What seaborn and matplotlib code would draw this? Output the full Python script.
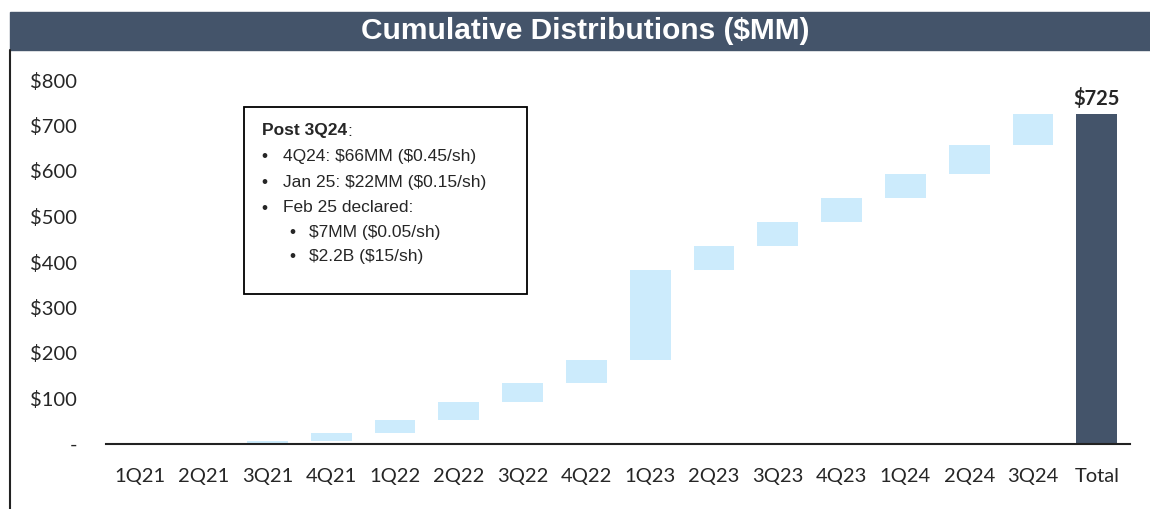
import matplotlib
matplotlib.use("Agg")
import matplotlib.pyplot as plt
from matplotlib.patches import Rectangle
import numpy as np
import seaborn as sns

# quarterly distributions ($MM)
quarters = ["1Q21", "2Q21", "3Q21", "4Q21", "1Q22", "2Q22", "3Q22", "4Q22",
            "1Q23", "2Q23", "3Q23", "4Q23", "1Q24", "2Q24", "3Q24", "Total"]
increments = [0, 0, 6, 19, 28, 39, 42, 51, 197, 53, 54, 51, 54, 63, 68]
total = 725

y_ticks = [0, 100, 200, 300, 400, 500, 600, 700, 800]
y_labels = ["-", "$100", "$200", "$300", "$400", "$500", "$600", "$700", "$800"]

note_title = "Post 3Q24"
note_lines = ["4Q24: $66MM ($0.45/sh)", "Jan 25: $22MM ($0.15/sh)", "Feb 25 declared:"]
note_sub = ["$7MM ($0.05/sh)", "$2.2B ($15/sh)"]

step_color = "#CCEBFC"
total_color = "#44546A"

# waterfall: each step sits on the running total before it
bottoms = np.concatenate([[0], np.cumsum(increments)[:-1], [0]])
heights = np.array(increments + [total])


def esc(s):
    return s.replace("$", r"\$")


sns.set_style("white")
plt.rcParams["font.family"] = ["Lato", "DejaVu Sans"]

fig = plt.figure(figsize=(11.5, 5.09), dpi=100)
W, H = 1150, 509


def fx(px):
    return px / W


def fy(py):
    return 1 - py / H


ax = fig.add_axes([fx(106), fy(444), fx(1130) - fx(106), fy(80) - fy(444)])

sns.barplot(x=quarters, y=heights, color=step_color, saturation=1,
            bottom=bottoms, width=0.64, errorbar=None, ax=ax)
ax.patches[-1].set_facecolor(total_color)
for p in ax.patches:
    p.set_edgecolor("none")

ax.set_xlim(-0.53, 15.52)
ax.set_ylim(0, 800)
ax.set_yticks(y_ticks)
ax.set_yticklabels(y_labels)
ax.tick_params(axis="y", length=0, pad=21, labelsize=14.5)
ax.tick_params(axis="x", length=0, pad=17, labelsize=14.5)
ax.set_xlabel("")
ax.set_ylabel("")
for s in ["top", "right", "left"]:
    ax.spines[s].set_visible(False)
ax.spines["bottom"].set_color("#222222")
ax.spines["bottom"].set_linewidth(1.5)

ax.text(15, total + 12, esc(f"${total}"), ha="center", va="bottom",
        fontsize=14.5, fontweight="bold")

# title band
fig.patches.append(Rectangle((fx(10), fy(50)), 1 - fx(10), fy(12) - fy(50),
                             transform=fig.transFigure, color=total_color, zorder=0))
fig.text(fx(585), fy(31), esc("Cumulative Distributions ($MM)"), color="white",
         ha="center", va="center", fontsize=21.5, fontweight="bold",
         family=["Liberation Sans Narrow", "Liberation Sans", "DejaVu Sans"])
fig.add_artist(plt.Line2D([fx(10), fx(10)], [0, fy(50)], color="#222222",
                          lw=1.5, transform=fig.transFigure))

# note box
fig.patches.append(Rectangle((fx(244), fy(294)), fx(527) - fx(244), fy(107) - fy(294),
                             transform=fig.transFigure, facecolor="white",
                             edgecolor="black", lw=1.3, zorder=3))
note_font = ["Liberation Sans", "DejaVu Sans"]
fs = 12.5
t = fig.text(fx(262), fy(131), note_title, ha="left", va="center", fontsize=fs,
             fontweight="bold", family=note_font, zorder=4)
fig.canvas.draw()
bb = t.get_window_extent()
fig.text(bb.x1 / W, fy(131), ":", ha="left", va="center", fontsize=fs,
         family=note_font, zorder=4)
for yy, line in zip([157, 182, 208], note_lines):
    fig.text(fx(261), fy(yy), "•", ha="left", va="center", fontsize=fs, family=note_font, zorder=4)
    fig.text(fx(283), fy(yy), esc(line), ha="left", va="center", fontsize=fs, family=note_font, zorder=4)
for yy, line in zip([233, 257], note_sub):
    fig.text(fx(289), fy(yy), "•", ha="left", va="center", fontsize=fs, family=note_font, zorder=4)
    fig.text(fx(309), fy(yy), esc(line), ha="left", va="center", fontsize=fs, family=note_font, zorder=4)

fig.savefig("out.png", dpi=100)
